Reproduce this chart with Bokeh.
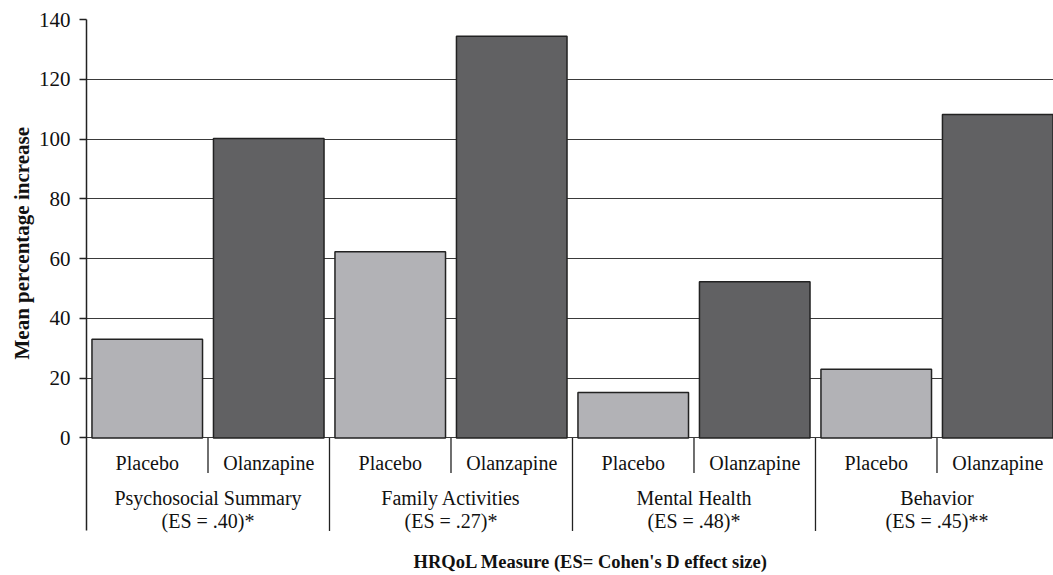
from bokeh.plotting import figure
from bokeh.models import Range1d, FixedTicker, Title
from bokeh.core.properties import value
from bokeh.embed import file_html
from bokeh.resources import INLINE

# ---- data ----
groups = ["Psychosocial Summary", "Family Activities", "Mental Health", "Behavior"]
es_labels = ["(ES = .40)*", "(ES = .27)*", "(ES = .48)*", "(ES = .45)**"]
treatments = ["Placebo", "Olanzapine"]
placebo = [33.0, 62.3, 15.2, 23.0]
olanzapine = [100.2, 134.4, 52.3, 108.2]
y_ticks = [0, 20, 40, 60, 80, 100, 120, 140]
y_title = "Mean percentage increase"
x_title = "HRQoL Measure (ES= Cohen's D effect size)"

FONT = "Liberation Serif"
LIGHT = "#b2b2b6"
DARK = "#616163"

n = len(groups)
sep_bottom = -31.1

p = figure(width=1053, height=575,
           x_range=Range1d(0, 7.959), y_range=Range1d(-46.0, 140),
           output_backend="svg", toolbar_location=None,
           x_axis_location=None,
           min_border_left=86, min_border_right=0,
           min_border_top=19, min_border_bottom=0)

p.outline_line_color = None
p.background_fill_color = "white"
p.border_fill_color = "white"

# y axis
ax = p.yaxis[0]
ax.ticker = FixedTicker(ticks=y_ticks)
ax.bounds = (sep_bottom, 140)
ax.minor_tick_line_color = None
ax.major_tick_in = 0
ax.major_tick_out = 7
ax.major_tick_line_color = "#222222"
ax.major_tick_line_width = 1.3
ax.axis_line_color = "#222222"
ax.axis_line_width = 1.5
ax.major_label_text_font = FONT
ax.major_label_text_font_size = "21px"
ax.major_label_text_color = "#111111"
ax.major_label_standoff = 9

p.xgrid.visible = False
p.ygrid.ticker = FixedTicker(ticks=y_ticks)
p.ygrid.grid_line_color = "#3a3a3a"
p.ygrid.grid_line_width = 1.2

# bars
px = [2 * i + 0.5 for i in range(n)]
ox = [2 * i + 1.5 for i in range(n)]
p.vbar(x=px, top=placebo, bottom=0, width=0.91, fill_color=LIGHT,
       line_color="#222222", line_width=1.5)
p.vbar(x=ox, top=olanzapine, bottom=0, width=0.91, fill_color=DARK,
       line_color="#222222", line_width=1.5)

# separators in the category area
gx = [2 * i for i in range(1, n)]
sx = [2 * i + 1 for i in range(n)]
p.segment(x0=gx, y0=[0] * len(gx), x1=gx, y1=[sep_bottom] * len(gx),
          line_color="#222222", line_width=1.3)
p.segment(x0=sx, y0=[0] * len(sx), x1=sx, y1=[-11.7] * len(sx),
          line_color="#222222", line_width=1.3)

# category texts
p.text(x=px + ox, y=[-8.4] * (2 * n),
       text=[treatments[0]] * n + [treatments[1]] * n,
       text_align="center", text_baseline="middle",
       text_font=value(FONT), text_font_size="20px", text_color="#111111")
cx = [2 * i + 1 for i in range(n)]
p.text(x=cx, y=[-20.1] * n, text=groups,
       text_align="center", text_baseline="middle",
       text_font=value(FONT), text_font_size="20px", text_color="#111111")
p.text(x=cx, y=[-27.8] * n, text=es_labels,
       text_align="center", text_baseline="middle",
       text_font=value(FONT), text_font_size="20px", text_color="#111111")

# x title (inside the lower, axis-free strip of the frame)
p.text(x=[4.15], y=[-41.5], text=[x_title],
       text_align="center", text_baseline="middle",
       text_font=value(FONT), text_font_style="bold",
       text_font_size="18.5px", text_color="#111111")

# y title
p.add_layout(Title(text=y_title, align="left", offset=216,
                   text_font=FONT, text_font_style="bold",
                   text_font_size="21px", text_color="#111111",
                   standoff=4), "left")

open("out.html", "w").write(file_html(p, INLINE))
